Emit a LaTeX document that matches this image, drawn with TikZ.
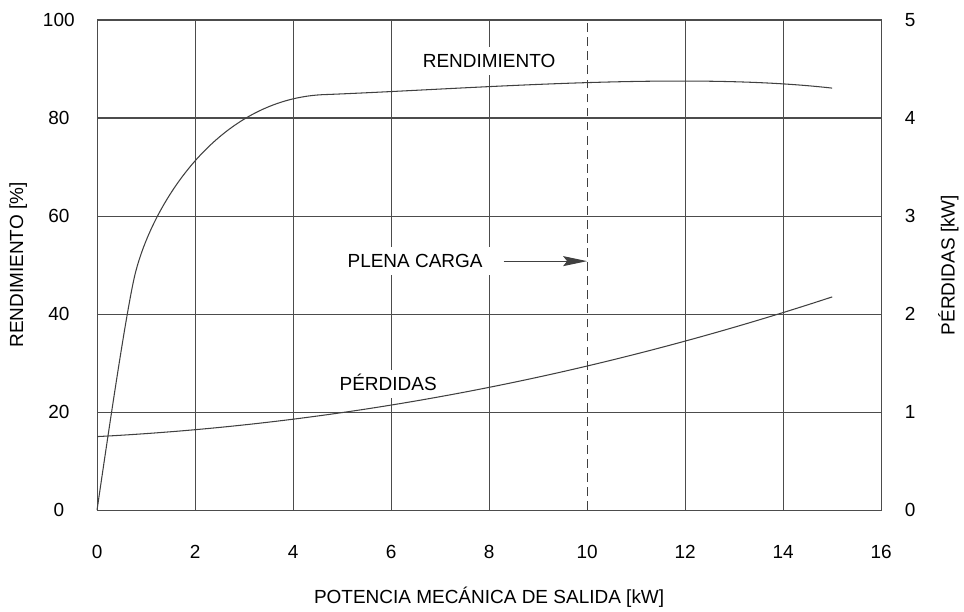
\documentclass[tikz,border=0pt]{standalone}
\usepackage{fontspec}
\setmainfont{Liberation Sans}
\usetikzlibrary{arrows.meta}

\tikzset{
  gridline/.style={black!70, line width=0.6pt},
  curveline/.style={black!75, line width=0.6pt},
  curvelabel/.style={fill=white, inner sep=4pt, text height=7.7pt, text depth=0pt},
}

\begin{document}
\begin{tikzpicture}[x=0.98cm, y=0.098cm, font=\fontsize{10.8}{13}\selectfont]
\useasboundingbox (-1.98,-20.61) rectangle (17.69,104.08);

% grid
\draw[gridline] (0,0) rectangle (16,100);
\foreach \xx in {2,4,6,8,12,14}
  \draw[gridline] (\xx,0) -- (\xx,100);
\foreach \yy in {20,40,60,80}
  \draw[gridline] (0,\yy) -- (16,\yy);

% ticks
\foreach \xx in {0,2,...,16}
  \node (xt\xx) at (\xx,-8.6) {\xx};
\foreach \yy in {0,20,...,100}
  \node (yl\yy) at (-0.78,\yy) {\yy};
\foreach \kw in {0,...,5}
  \node (yr\kw) at (16.59,\kw*20) {\kw};

% axis titles
\node (xtitle) at (8,-17.8) {POTENCIA MECÁNICA DE SALIDA [kW]};
\node[rotate=90] (ltitle) at (-1.61,50) {RENDIMIENTO [\%]};
\node[rotate=90] (rtitle) at (17.37,50) {PÉRDIDAS [kW]};

% curve labels
\node[curvelabel] (rend) at (8,91.6) {RENDIMIENTO};
\node[curvelabel] (plena) at (6.49,50.8) {PLENA CARGA};
\node[curvelabel] (perd) at (5.94,25.7) {PÉRDIDAS};

% full load
\coordinate (loadbottom) at (10,0);
\coordinate (loadtop) at (10,100);
\coordinate (fullload) at (10,50.8);
\draw[curveline, dash pattern=on 5pt off 3pt] (loadbottom) -- (loadtop);
\draw[curveline, -{Stealth[length=4.8mm,width=2mm,inset=0.8mm]}]
  ([xshift=0.27cm]plena.east) -- (fullload);

% curves
\draw[curveline] (0,0) .. controls (0.35,24) and (0.6,40) .. (0.75,47)
  .. controls (1.05,61) and (2.4,84.3) .. (4.7,84.8)
  .. controls (7.7,86) and (12,89.5) .. (15,86.1);
\draw[curveline] plot[domain=0:15, samples=40, smooth]
  (\x,{15+0.52*\x+0.092*\x*\x});
\end{tikzpicture}
\end{document}
